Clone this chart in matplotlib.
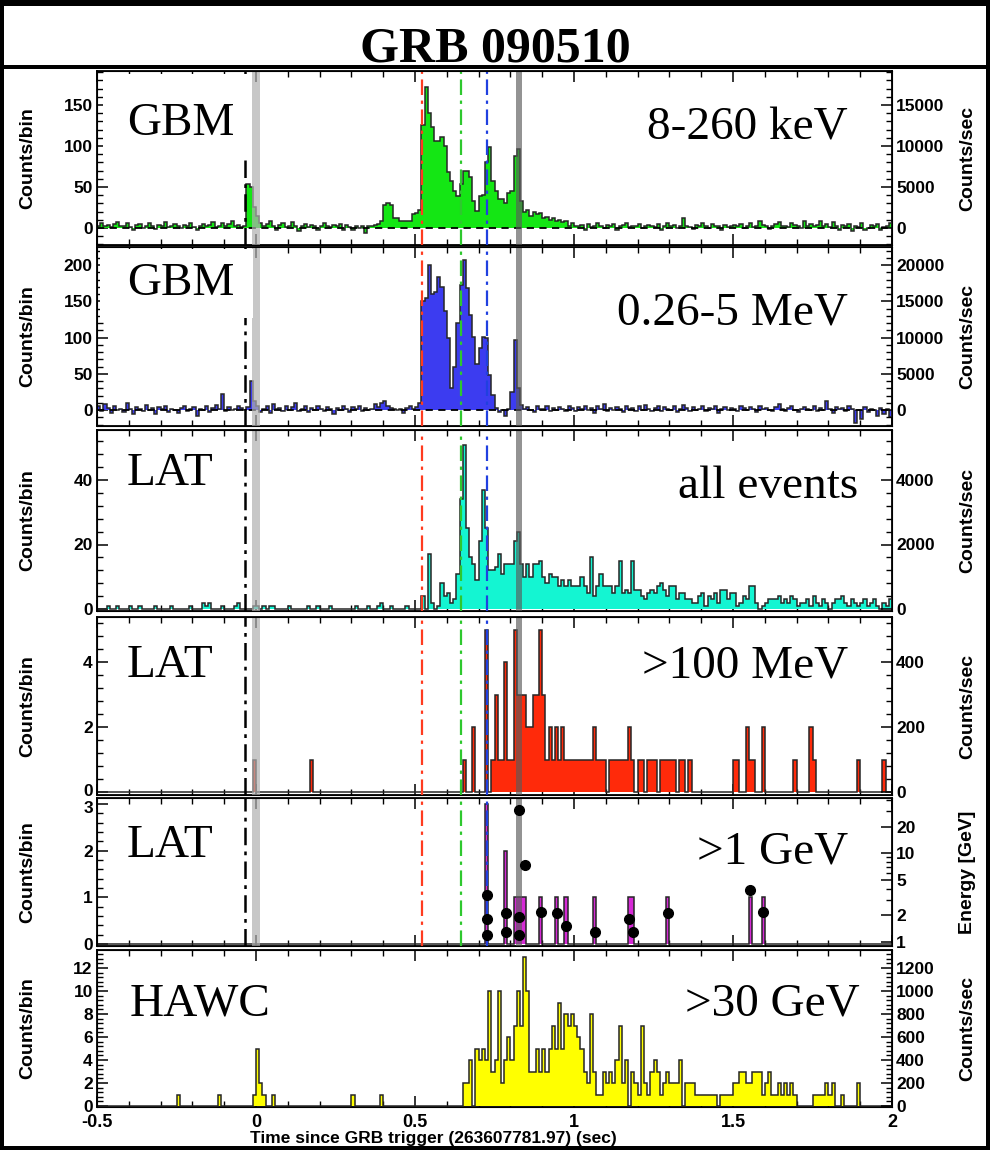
import numpy as np
import matplotlib.pyplot as plt
import matplotlib.transforms as mtrans
from matplotlib.patches import Rectangle
from matplotlib.ticker import MultipleLocator, AutoMinorLocator, FixedLocator, NullFormatter

# time binning: 10 ms bins from -0.5 s to 2.0 s
t_start, t_stop, bin_w = -0.5, 2.0, 0.01
edges = np.round(np.arange(t_start, t_stop + bin_w / 2, bin_w), 3)

# GBM 8-260 keV, counts per bin (rows of 25 bins = 0.25 s)
gbm_lo = [
    3, 6, 2, 4, 1, 5, 7, 2, 3, 6, 1, -2, 4, 5, 0, 3, 6, 2, -1, 4, 3, 7, 1, 2, 5,
    3, 0, 4, 2, 6, 1, -2, 3, 5, 2, 4, 7, 1, 3, 6, 2, 5, 8, 3, 4, 1, 3, 54, 50, 26,
    15, 6, 2, 5, 8, 3, -2, 4, 6, 1, 3, 7, 2, -4, 3, 5, 1, 4, 2, -3, 3, 6, 2, 1, 4,
    2, 5, -3, 4, 1, -2, 3, 0, 2, -6, 2, 3, 4, 5, 8, 28, 30, 28, 12, 12, 9, 9, 8, 8, 17,
    18, 22, 126, 172, 140, 123, 106, 106, 111, 100, 68, 57, 45, 39, 54, 70, 70, 62, 33, 21, 39, 40, 80, 99, 57,
    45, 35, 35, 30, 43, 45, 88, 96, 33, 20, 22, 15, 20, 17, 18, 12, 14, 10, 12, 8, 10, 7, 8, 3, 6,
    3, 2, 4, -2, 5, 1, 3, 6, 2, 0, 4, 3, 5, -3, 2, 4, 6, 1, 3, 2, 5, 0, 3, 4, 2,
    1, 5, -2, 3, 6, 2, 4, 0, 3, 12, 2, 1, -1, 4, 2, 6, 3, 0, 5, 2, 3, -2, 4, 1, 3,
    4, 2, 5, 0, 3, 6, 1, 2, 8, 4, 3, -1, 2, 5, 7, 2, 3, 1, 6, 4, 2, 0, 9, 3, 5,
    2, 4, 8, 3, 5, 1, 7, 2, -3, 4, 2, 5, -4, 3, 1, 6, -2, 0, 4, 2, 5, -3, 1, 3, 6,
]

# GBM 0.26-5 MeV
gbm_hi = [
    5, -2, 8, 3, -4, 6, 0, 2, -3, 9, 1, -5, 4, 2, -2, 7, 0, 3, -6, 4, 1, 5, -3, 2, 0,
    -4, 3, 6, -2, 1, 4, -8, 2, 0, 5, -3, 3, 7, 1, 22, -2, 4, 0, 2, 6, 3, 0, 4, 40, 12,
    6, -3, 2, 5, -4, 8, 1, 3, -2, 6, 0, 4, 9, -1, 2, 5, -3, 3, 0, 6, 1, -2, 4, 2, -5,
    3, 0, 5, 2, -3, 4, 1, 6, -2, 3, 0, 2, 8, 4, 10, 12, 6, 3, 1, 0, 2, -4, 3, 5, 1,
    4, 10, 150, 155, 200, 160, 163, 184, 170, 136, 99, 30, 60, 120, 172, 207, 168, 131, 101, 64, 85, 101, 100, 48, 21,
    3, -3, 0, -8, 2, 25, 97, 30, 7, 2, 4, 0, -3, 5, 2, 1, 6, -2, 3, 0, 4, 2, -1, 5, 3,
    -2, 4, 1, 6, 0, 3, -4, 5, 2, 8, -1, 3, 0, 4, 2, -3, 6, 1, 3, -2, 5, 0, 7, 2, -1,
    3, 6, -2, 4, 1, 0, 5, -3, 2, 7, 3, -1, 4, 0, 2, 5, -2, 3, 1, 6, -4, 2, 4, 0, 3,
    1, -2, 5, 3, 0, 4, 2, -3, 6, 1, 3, 0, -2, 4, 8, 2, -1, 3, 5, 0, -3, 2, 4, 1, 0,
    5, -2, 3, 0, 12, 2, -4, 4, 1, 3, -1, 5, 2, -18, 0, -12, 4, -3, 2, 0, -8, 3, -5, 1, -10,
]

# LAT all events
lat_all = [
    0, 0, 0, 1, 0, 0, 1, 0, 0, 0, 1, 0, 0, 1, 0, 0, 0, 0, 1, 0, 0, 0, 0, 1, 0,
    0, 0, 0, 0, 1, 0, 0, 0, 2, 1, 2, 0, 0, 0, 1, 0, 0, 0, 1, 2, 0, 0, 0, 0, 1,
    1, 0, 1, 0, 1, 1, 0, 0, 0, 0, 1, 0, 0, 0, 0, 0, 1, 0, 0, 1, 0, 0, 0, 1, 0,
    0, 0, 0, 0, 0, 0, 1, 0, 0, 0, 1, 0, 0, 1, 2, 0, 0, 1, 0, 0, 0, 0, 1, 0, 0,
    0, 0, 4, 0, 17, 2, 0, 1, 8, 4, 5, 2, 3, 11, 34, 51, 25, 16, 14, 9, 21, 37, 25, 12, 12,
    13, 17, 11, 14, 14, 14, 21, 24, 14, 10, 14, 10, 14, 14, 15, 10, 8, 11, 10, 10, 7, 9, 7, 9, 7,
    7, 7, 10, 7, 5, 16, 4, 7, 11, 7, 7, 7, 5, 7, 15, 5, 6, 5, 15, 6, 6, 4, 3, 5, 6,
    5, 7, 8, 6, 4, 7, 7, 3, 5, 5, 3, 3, 2, 2, 4, 5, 1, 4, 3, 5, 2, 6, 6, 3, 5,
    5, 1, 2, 4, 3, 7, 7, 2, 0, 1, 2, 3, 3, 3, 4, 2, 3, 2, 4, 3, 1, 2, 2, 3, 1,
    4, 2, 1, 3, 2, 0, 2, 3, 3, 4, 2, 1, 3, 2, 1, 2, 3, 1, 2, 3, 1, 0, 2, 1, 3,
]

# LAT > 100 MeV
lat_100 = [
    0, 0, 0, 0, 0, 0, 0, 0, 0, 0, 0, 0, 0, 0, 0, 0, 0, 0, 0, 0, 0, 0, 0, 0, 0,
    0, 0, 0, 0, 0, 0, 0, 0, 0, 0, 0, 0, 0, 0, 0, 0, 0, 0, 0, 0, 0, 0, 0, 0, 1,
    0, 0, 0, 0, 0, 0, 0, 0, 0, 0, 0, 0, 0, 0, 0, 0, 0, 1, 0, 0, 0, 0, 0, 0, 0,
    0, 0, 0, 0, 0, 0, 0, 0, 0, 0, 0, 0, 0, 0, 0, 0, 0, 0, 0, 0, 0, 0, 0, 0, 0,
    0, 0, 0, 0, 0, 0, 0, 0, 0, 0, 0, 0, 0, 0, 0, 1, 0, 0, 2, 0, 0, 0, 5, 0, 1,
    3, 1, 1, 4, 1, 1, 5, 3, 3, 3, 2, 2, 3, 3, 5, 3, 1, 2, 1, 2, 1, 2, 1, 1, 1,
    1, 1, 1, 1, 1, 1, 2, 1, 1, 1, 0, 1, 1, 1, 1, 1, 1, 2, 1, 0, 1, 1, 0, 1, 1,
    1, 0, 1, 1, 1, 1, 1, 0, 1, 1, 0, 1, 0, 0, 0, 0, 0, 0, 0, 0, 0, 0, 0, 0, 0,
    1, 1, 0, 0, 2, 1, 1, 0, 0, 2, 0, 0, 0, 0, 0, 0, 0, 0, 0, 1, 0, 0, 0, 0, 2,
    1, 0, 0, 0, 0, 0, 0, 0, 0, 0, 0, 0, 0, 0, 1, 0, 0, 0, 0, 0, 0, 0, 1, 0, 0,
]

# LAT > 1 GeV: occupied bins (bin start, s) and counts
lat1_bin_t = [0.72, 0.78, 0.81, 0.82, 0.83, 0.84, 0.89, 0.94, 0.97, 1.06, 1.17, 1.18, 1.29, 1.55, 1.59]
lat1_counts = [3, 2, 1, 1, 1, 1, 1, 1, 1, 1, 1, 1, 1, 1, 1]
# individual photons: arrival time (s) and energy (GeV)
photon_t = [0.725, 0.725, 0.725, 0.785, 0.785, 0.826, 0.826, 0.826, 0.846, 0.895,
            0.945, 0.975, 1.065, 1.172, 1.185, 1.295, 1.555, 1.595]
photon_e = [3.4, 1.8, 1.2, 2.1, 1.3, 31.0, 1.9, 1.2, 7.3, 2.2,
            2.1, 1.5, 1.3, 1.8, 1.3, 2.1, 3.9, 2.2]

# HAWC > 30 GeV (simulated)
hawc = [
    0, 0, 0, 0, 0, 0, 0, 0, 0, 0, 0, 0, 0, 0, 0, 0, 0, 0, 0, 0, 0, 0, 0, 0, 0,
    1, 0, 0, 0, 0, 0, 0, 0, 0, 0, 0, 0, 0, 1, 0, 0, 0, 0, 0, 0, 0, 0, 0, 0, 1,
    5, 2, 1, 0, 0, 1, 0, 0, 0, 0, 0, 0, 0, 0, 0, 0, 0, 0, 0, 0, 0, 0, 0, 0, 0,
    0, 0, 0, 0, 0, 1, 0, 0, 0, 0, 0, 0, 0, 0, 1, 0, 0, 0, 0, 0, 0, 0, 0, 0, 0,
    0, 0, 0, 0, 0, 0, 0, 0, 0, 0, 0, 0, 0, 0, 0, 2, 2, 4, 0, 5, 4, 5, 4, 10, 3,
    4, 10, 2, 4, 6, 4, 7, 10, 7, 13, 10, 3, 3, 5, 3, 5, 3, 5, 7, 5, 9, 5, 8, 7, 8,
    7, 6, 5, 3, 2, 8, 3, 1, 1, 3, 2, 3, 2, 4, 7, 2, 4, 0, 3, 2, 1, 7, 2, 1, 3,
    4, 3, 1, 2, 3, 2, 2, 2, 4, 0, 2, 2, 2, 1, 1, 1, 1, 1, 1, 1, 0, 1, 1, 1, 1,
    2, 2, 3, 3, 2, 2, 3, 3, 3, 1, 2, 3, 1, 1, 2, 1, 2, 1, 2, 1, 0, 0, 0, 0, 0,
    1, 1, 1, 1, 2, 1, 2, 0, 0, 1, 0, 0, 0, 0, 2, 0, 0, 0, 0, 0, 0, 0, 0, 0, 0,
]

# reference times (s): trigger marker, GBM/LAT features, 31 GeV photon
t_black = -0.034
band_light = (-0.012, 0.014)
t_red, t_green, t_blue = 0.522, 0.645, 0.725
band_dark = (0.817, 0.836)

lat1 = np.zeros(len(edges) - 1)
lat1[np.round((np.array(lat1_bin_t) - t_start) / bin_w).astype(int)] = lat1_counts

W, H = 990, 1150
def fx(x): return x / W
def fy(y): return 1 - y / H

plt.rcParams['font.family'] = ['Liberation Sans', 'DejaVu Sans']
plt.rcParams['font.weight'] = 'bold'
plt.rcParams['axes.unicode_minus'] = False

fig = plt.figure(figsize=(9.9, 11.5), dpi=100, facecolor='black')
fig.add_artist(Rectangle((fx(4), fy(65)), fx(982), 59 / H, transform=fig.transFigure,
                         facecolor='white', edgecolor='none', zorder=-5))
fig.add_artist(Rectangle((fx(4), fy(1146)), fx(982), (1146 - 69) / H, transform=fig.transFigure,
                         facecolor='white', edgecolor='none', zorder=-5))
fig.text(0.5, fy(62), 'GRB 090510', ha='center', va='baseline', fontsize=36,
         fontweight='bold', family='Liberation Serif')

# layout: (top px, bottom px, zero px, px per count)
panels = [
    dict(vals=gbm_lo, color='#14e614', box=(71, 245, 228, 0.82), lt=[0, 50, 100, 150],
         rt=[0, 5000, 10000, 15000], left='GBM', lpos=(127, 135), right='8-260 keV', rpos=(848, 140),
         rlab='Counts/sec', dashed=True),
    dict(vals=gbm_hi, color='#3c3cf0', box=(247, 426, 410, 0.725), lt=[0, 50, 100, 150, 200],
         rt=[0, 5000, 10000, 15000, 20000], left='GBM', lpos=(127, 295), right='0.26-5 MeV', rpos=(848, 325),
         rlab='Counts/sec', dashed=True),
    dict(vals=lat_all, color='#14f5d2', box=(430, 611, 609, 3.225), lt=[0, 20, 40],
         rt=[0, 2000, 4000], left='LAT', lpos=(127, 485), right='all events', rpos=(858, 498),
         rlab='Counts/sec', dashed=False),
    dict(vals=lat_100, color='#ff2a0a', box=(617, 795, 792, 32.5), lt=[0, 2, 4],
         rt=[0, 200, 400], left='LAT', lpos=(127, 677), right='>100 MeV', rpos=(848, 678),
         rlab='Counts/sec', dashed=False),
    dict(vals=lat1, color='#d62ad6', box=(798, 946, 944, 46.7), lt=[0, 1, 2, 3],
         rt=None, left='LAT', lpos=(127, 857), right='>1 GeV', rpos=(848, 864),
         rlab='Energy [GeV]', dashed=False),
    dict(vals=hawc, color='#ffff00', box=(950, 1107, 1106, 11.5), lt=[0, 2, 4, 6, 8, 10, 12],
         rt=[0, 200, 400, 600, 800, 1000, 1200], left='HAWC', lpos=(130, 1015), right='>30 GeV', rpos=(860, 1015),
         rlab='Counts/sec', dashed=False),
]

dashdot = (0, (7, 2.5, 1.5, 2.5))
axes = []
for k, p in enumerate(panels):
    top, bot, zero, ppc = p['box']
    ylo, yhi = -(bot - zero) / ppc, (zero - top) / ppc
    ax = fig.add_axes([fx(97), fy(bot), fx(892) - fx(97), (bot - top) / H])
    axes.append(ax)
    ax.set_xlim(t_start, t_stop)
    ax.set_ylim(ylo, yhi)
    vals = np.asarray(p['vals'], dtype=float)
    ax.stairs(vals, edges, fill=True, color=p['color'], lw=0, zorder=2)
    ax.stairs(vals, edges, color='#262626', lw=1.1, zorder=3)
    if p['dashed']:
        ax.axhline(0, color='black', ls=(0, (4, 3)), lw=1.3, zorder=3)
    if k < 5:
        ax.axvline(t_black, color='black', ls=dashdot, lw=1.8, zorder=4)
        ax.axvspan(*band_light, color='#b0b0b0', alpha=0.7, lw=0, zorder=4)
        ax.axvline(t_red, color='#ff3b1f', ls=dashdot, lw=1.6, zorder=4)
        ax.axvline(t_green, color='#2ec82e', ls=dashdot, lw=1.6, zorder=4)
        ax.axvline(t_blue, color='#2040e0', ls=dashdot, lw=1.6, zorder=4)
        ax.axvspan(*band_dark, color='#5a5a5a', alpha=0.65, lw=0, zorder=4)

    ax.xaxis.set_major_locator(MultipleLocator(0.5))
    ax.xaxis.set_minor_locator(MultipleLocator(0.1))
    ax.set_yticks(p['lt'])
    ax.yaxis.set_minor_locator(AutoMinorLocator(5))
    ax.tick_params(which='both', direction='in', top=True, right=False, labelsize=12.5,
                   labelbottom=(k == 5), pad=3)
    ax.tick_params(axis='x', labelsize=13, pad=5)
    ax.tick_params(which='major', length=8, width=1.1)
    ax.tick_params(which='minor', length=4, width=1.0)
    if k == 5:
        ax.set_xticklabels([f'{v:g}' for v in ax.get_xticks()])
    for s in ax.spines.values():
        s.set_linewidth(1.3)

    ax2 = ax.twinx()
    if p['rt'] is None:
        ax2.set_yscale('log')
        ax2.set_ylim(0.9, 42)
        ax2.set_yticks([1, 2, 5, 10, 20])
        ax2.set_yticklabels(['1', '2', '5', '10', '20'])
        ax2.yaxis.set_minor_locator(FixedLocator([3, 4, 6, 7, 8, 9, 30, 40]))
        ax2.yaxis.set_minor_formatter(NullFormatter())
        ax2.plot(photon_t, photon_e, 'o', color='black', ms=7, zorder=5)
    else:
        ax2.set_ylim(ylo * 100, yhi * 100)
        ax2.set_yticks(p['rt'])
        ax2.yaxis.set_minor_locator(AutoMinorLocator(5))
    ax2.tick_params(which='both', direction='in', labelsize=12.5, pad=3)
    ax2.tick_params(which='major', length=8, width=1.1)
    ax2.tick_params(which='minor', length=4, width=1.0)

    ymid = fy((top + bot) / 2)
    fig.text(fx(28), ymid, 'Counts/bin', rotation=90, ha='center', va='center', fontsize=14)
    fig.text(fx(968), ymid, p['rlab'], rotation=90, ha='center', va='center', fontsize=14)

    fig.text(fx(p['lpos'][0]), fy(p['lpos'][1]), p['left'], ha='left', va='baseline',
             fontsize=34, fontweight='normal', family='Liberation Serif',
             bbox=dict(facecolor='white', edgecolor='none', pad=4))
    fig.text(fx(p['rpos'][0]), fy(p['rpos'][1]), p['right'], ha='right', va='baseline',
             fontsize=34, fontweight='normal', family='Liberation Serif',
             bbox=dict(facecolor='white', edgecolor='none', pad=4))

# nudge the two tick labels that meet at the LAT >100 MeV / >1 GeV border
down = mtrans.ScaledTranslation(0, -3 / 100, fig.dpi_scale_trans)
up = mtrans.ScaledTranslation(0, 2 / 100, fig.dpi_scale_trans)
lbl_top = axes[4].get_yticklabels()[-1]
lbl_top.set_transform(lbl_top.get_transform() + down)
lbl_zero = axes[3].get_yticklabels()[0]
lbl_zero.set_transform(lbl_zero.get_transform() + up)

# white label boxes that hide the upper part of the trigger line in the GBM panels
for x0, y0, x1, y1 in [(103, 74, 252, 160), (100, 249, 253, 318)]:
    fig.add_artist(Rectangle((fx(x0), fy(y1)), fx(x1 - x0), (y1 - y0) / H, transform=fig.transFigure,
                             facecolor='white', edgecolor='none', zorder=2))

fig.text(fx(433), fy(1138), 'Time since GRB trigger (263607781.97) (sec)', ha='center', va='center',
         fontsize=12.5)

fig.savefig('out.png', dpi=100, facecolor=fig.get_facecolor())
